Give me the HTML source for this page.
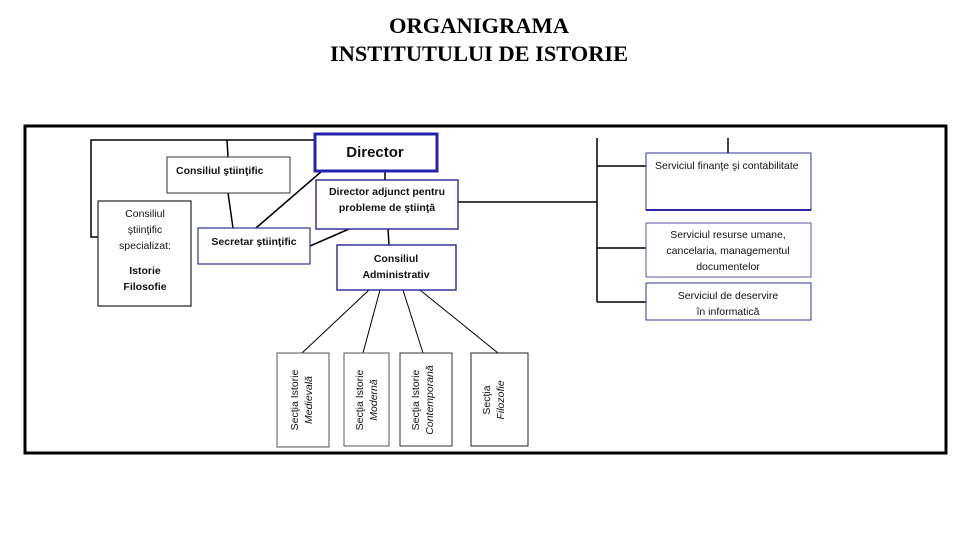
<!DOCTYPE html>
<html><head><meta charset="utf-8"><style>
html,body{margin:0;padding:0;background:#fff;width:960px;height:540px;overflow:hidden}
svg{display:block}
.t{font-family:"Liberation Sans",sans-serif;font-size:10.5px;fill:#111}
.b{font-weight:bold}
</style></head><body>
<svg width="960" height="540" viewBox="0 0 960 540" xmlns="http://www.w3.org/2000/svg">
<text x="479" y="33" text-anchor="middle" font-family="Liberation Serif,serif" font-weight="bold" font-size="22" textLength="180" lengthAdjust="spacingAndGlyphs">ORGANIGRAMA</text>
<text x="479" y="61" text-anchor="middle" font-family="Liberation Serif,serif" font-weight="bold" font-size="22" textLength="298" lengthAdjust="spacingAndGlyphs">INSTITUTULUI DE ISTORIE</text>
<rect x="25" y="126" width="921" height="327" fill="none" stroke="#000" stroke-width="3"/>
<g stroke="#000" stroke-width="1.5" fill="none">
<polyline points="314,140 91,140 91,237 98,237"/>
<line x1="227" y1="140" x2="228" y2="157"/>
<line x1="228" y1="193" x2="233" y2="228"/>
<line x1="322" y1="171" x2="256" y2="228"/>
<line x1="310" y1="246" x2="349" y2="229"/>
<line x1="388" y1="229" x2="389" y2="245"/>
<line x1="385" y1="171" x2="385" y2="180"/>
<line x1="458" y1="202" x2="597" y2="202"/>
<line x1="597" y1="138" x2="597" y2="302"/>
<line x1="597" y1="166" x2="646" y2="166"/>
<line x1="597" y1="248" x2="646" y2="248"/>
<line x1="597" y1="302" x2="646" y2="302"/>
<line x1="728" y1="138" x2="728" y2="153"/>
</g>
<g stroke="#000" stroke-width="1" fill="none">
<line x1="369" y1="290" x2="302" y2="353"/>
<line x1="380" y1="290" x2="363" y2="353"/>
<line x1="403" y1="290" x2="423" y2="353"/>
<line x1="420" y1="290" x2="498" y2="353"/>
</g>
<g fill="#fff">
<rect x="315" y="134" width="122" height="37" stroke="#2323b0" stroke-width="3"/>
<rect x="167" y="157" width="123" height="36" stroke="#333" stroke-width="1"/>
<rect x="98" y="201" width="93" height="105" stroke="#222" stroke-width="1.2"/>
<rect x="198" y="228" width="112" height="36" stroke="#33339a" stroke-width="1.2"/>
<rect x="316" y="180" width="142" height="49" stroke="#33339a" stroke-width="1.5"/>
<rect x="337" y="245" width="119" height="45" stroke="#33339a" stroke-width="1.5"/>
<rect x="646" y="153" width="165" height="57" stroke="#33339a" stroke-width="1"/>
<line x1="646" y1="210" x2="811" y2="210" stroke="#2828a0" stroke-width="2"/>
<rect x="646" y="223" width="165" height="54" stroke="#5555aa" stroke-width="1"/>
<rect x="646" y="283" width="165" height="37" stroke="#33339a" stroke-width="1"/>
<rect x="277" y="353" width="52" height="94" stroke="#555" stroke-width="1"/>
<rect x="344" y="353" width="45" height="93" stroke="#555" stroke-width="1"/>
<rect x="400" y="353" width="52" height="93" stroke="#333" stroke-width="1"/>
<rect x="471" y="353" width="57" height="93" stroke="#222" stroke-width="1"/>
</g>
<text x="375" y="157" text-anchor="middle" font-family="Liberation Sans,sans-serif" font-size="15" font-weight="bold" fill="#111">Director</text>
<text class="t b" x="176" y="174">Consiliul ştiinţific</text>
<text class="t" x="145" y="217" text-anchor="middle">Consiliul</text>
<text class="t" x="145" y="233" text-anchor="middle">ştiinţific</text>
<text class="t" x="145" y="249" text-anchor="middle">specializat:</text>
<text class="t b" x="145" y="274" text-anchor="middle">Istorie</text>
<text class="t b" x="145" y="290" text-anchor="middle">Filosofie</text>
<text class="t b" x="254" y="245" text-anchor="middle">Secretar ştiinţific</text>
<text class="t b" x="387" y="195" text-anchor="middle">Director adjunct pentru</text>
<text class="t b" x="387" y="211" text-anchor="middle">probleme de ştiinţă</text>
<text class="t b" x="396" y="262" text-anchor="middle">Consiliul</text>
<text class="t b" x="396" y="278" text-anchor="middle">Administrativ</text>
<text class="t" x="655" y="169">Serviciul finanţe şi contabilitate</text>
<text class="t" x="728" y="238" text-anchor="middle">Serviciul resurse umane,</text>
<text class="t" x="728" y="254" text-anchor="middle">cancelaria, managementul</text>
<text class="t" x="728" y="270" text-anchor="middle">documentelor</text>
<text class="t" x="728" y="299" text-anchor="middle">Serviciul de deservire</text>
<text class="t" x="728" y="315" text-anchor="middle">în informatică</text>
<g class="t">
<text transform="translate(298,400) rotate(-90)" text-anchor="middle">Secţia Istorie</text>
<text transform="translate(312,400) rotate(-90)" text-anchor="middle" font-style="italic">Medievală</text>
<text transform="translate(363,400) rotate(-90)" text-anchor="middle">Secţia Istorie</text>
<text transform="translate(377,400) rotate(-90)" text-anchor="middle" font-style="italic">Modernă</text>
<text transform="translate(419,400) rotate(-90)" text-anchor="middle">Secţia Istorie</text>
<text transform="translate(433,400) rotate(-90)" text-anchor="middle" font-style="italic">Contemporană</text>
<text transform="translate(490,400) rotate(-90)" text-anchor="middle">Secţia</text>
<text transform="translate(504,400) rotate(-90)" text-anchor="middle" font-style="italic">Filozofie</text>
</g>
</svg>
</body></html>
